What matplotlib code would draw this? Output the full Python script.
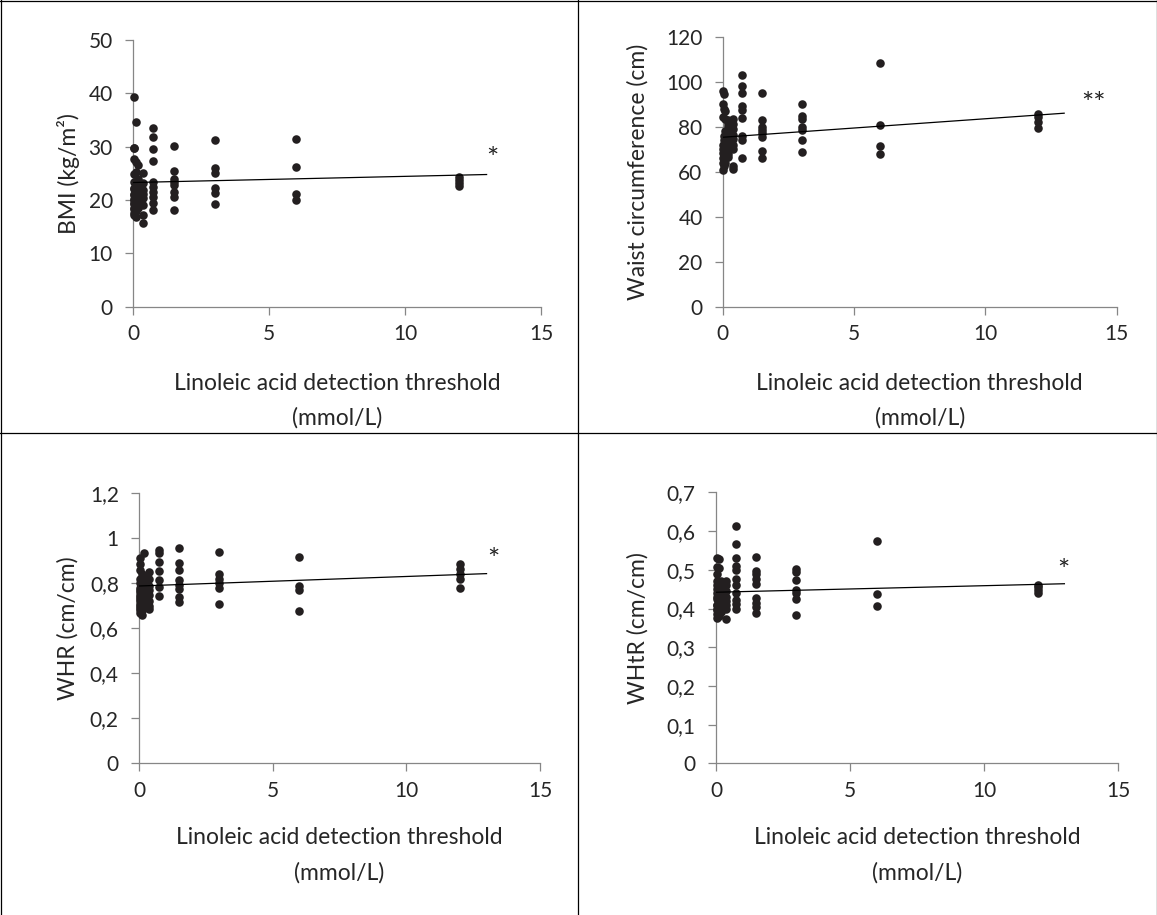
import matplotlib
matplotlib.use("Agg")
import matplotlib.pyplot as plt
from matplotlib.lines import Line2D

# ---------------- data ----------------
thresholds = [0.023, 0.047, 0.094, 0.1875, 0.375, 0.75, 1.5, 3, 6, 12]

bmi_values = [
    [17.2, 18.5, 19.5, 20.3, 21.2, 22.0, 29.8, 27.7],
    [39.4, 29.8, 24.9, 23.4, 22.3, 21.0, 20.0, 19.2, 18.4, 17.5],
    [34.6, 27.1, 25.2, 22.8, 21.8, 20.6, 19.6, 18.8, 18.0, 16.9, 20.8, 21.6],
    [26.5, 24.0, 23.0, 21.4, 20.2, 19.4, 18.6, 22.4, 20.9],
    [25.0, 23.2, 21.9, 21.1, 20.4, 19.0, 17.2, 15.7],
    [33.5, 31.8, 29.5, 27.4, 23.4, 22.5, 21.5, 20.6, 19.4, 18.2],
    [30.2, 25.5, 24.0, 23.4, 22.8, 21.5, 20.6, 18.2],
    [31.2, 26.0, 25.0, 22.2, 21.4, 19.2],
    [31.4, 26.2, 21.2, 20.1],
    [24.4, 23.8, 23.2, 22.6],
]

waist_values = [
    [96.0, 90.2, 84.1, 72.0, 70.0, 68.5, 66.0, 63.7, 60.8],
    [94.5, 87.9, 76.0, 74.0, 71.5, 69.0, 67.0, 65.0, 62.5],
    [87.1, 83.3, 78.0, 75.0, 73.0, 71.0, 69.5, 67.5, 65.5, 64.0],
    [83.0, 81.8, 80.3, 77.5, 76.0, 73.5, 71.8, 70.5, 68.0, 66.5],
    [83.5, 81.0, 79.0, 76.5, 74.5, 72.0, 70.0, 62.5, 61.4],
    [103.0, 98.1, 94.8, 89.2, 87.4, 84.0, 75.9, 74.1, 66.0],
    [95.1, 83.0, 80.0, 78.5, 77.1, 75.6, 69.3, 66.0],
    [90.1, 84.8, 83.3, 80.0, 78.5, 74.1, 68.9],
    [108.1, 80.8, 71.4, 67.9],
    [85.5, 84.2, 82.0, 79.5],
]

whr_values = [
    [0.911, 0.884, 0.82, 0.78, 0.76, 0.74, 0.72, 0.70, 0.68],
    [0.86, 0.80, 0.77, 0.75, 0.73, 0.71, 0.69, 0.67],
    [0.84, 0.81, 0.79, 0.76, 0.74, 0.72, 0.70, 0.68, 0.66],
    [0.933, 0.83, 0.80, 0.78, 0.75, 0.73, 0.71, 0.69],
    [0.85, 0.82, 0.79, 0.77, 0.75, 0.72, 0.70, 0.685],
    [0.948, 0.933, 0.893, 0.856, 0.815, 0.782, 0.745],
    [0.958, 0.892, 0.859, 0.815, 0.792, 0.773, 0.738, 0.718],
    [0.94, 0.841, 0.82, 0.80, 0.778, 0.707],
    [0.918, 0.788, 0.77, 0.677],
    [0.885, 0.865, 0.84, 0.82, 0.78],
]

whtr_values = [
    [0.530, 0.508, 0.489, 0.47, 0.45, 0.43, 0.41, 0.395, 0.375],
    [0.46, 0.44, 0.425, 0.41, 0.40, 0.385],
    [0.527, 0.504, 0.465, 0.45, 0.435, 0.42, 0.405, 0.39, 0.38],
    [0.47, 0.455, 0.44, 0.43, 0.415, 0.40, 0.39],
    [0.47, 0.46, 0.445, 0.43, 0.42, 0.41, 0.40, 0.372],
    [0.613, 0.566, 0.530, 0.511, 0.50, 0.476, 0.461, 0.441, 0.422, 0.411, 0.399],
    [0.534, 0.498, 0.489, 0.475, 0.463, 0.426, 0.415, 0.403, 0.388],
    [0.502, 0.495, 0.474, 0.448, 0.439, 0.424, 0.383],
    [0.574, 0.437, 0.406],
    [0.462, 0.455, 0.448, 0.44],
]

trend_x = [0, 13]
bmi_trend = [23.3, 24.8]
waist_trend = [75.3, 86.0]
whr_trend = [0.788, 0.843]
whtr_trend = [0.442, 0.464]

x_ticks = [0, 5, 10, 15]
bmi_ticks = [0, 10, 20, 30, 40, 50]
bmi_ticklabels = ["0", "10", "20", "30", "40", "50"]
waist_ticks = [0, 20, 40, 60, 80, 100, 120]
waist_ticklabels = ["0", "20", "40", "60", "80", "100", "120"]
whr_ticks = [0, 0.2, 0.4, 0.6, 0.8, 1.0, 1.2]
whr_ticklabels = ["0", "0,2", "0,4", "0,6", "0,8", "1", "1,2"]
whtr_ticks = [0, 0.1, 0.2, 0.3, 0.4, 0.5, 0.6, 0.7]
whtr_ticklabels = ["0", "0,1", "0,2", "0,3", "0,4", "0,5", "0,6", "0,7"]

ylabels = ["BMI (kg/m²)", "Waist circumference (cm)", "WHR (cm/cm)", "WHtR (cm/cm)"]
xlabel_lines = ["Linoleic acid detection threshold", "(mmol/L)"]
stars = ["*", "**", "*", "*"]
star_pos = [(13.2, 27.6), (14.1, 89.5), (13.25, 0.90), (12.95, 0.495)]

# ---------------- layout ----------------
W, H = 1157, 915
plt.rcParams["font.family"] = ["Lato", "DejaVu Sans"]
fig = plt.figure(figsize=(W / 100, H / 100), dpi=100)
fig.patch.set_facecolor("white")

FS_TICK = 15
FS_LAB = 16.5
DOT = "#231f20"
GREY = "#868686"
TXT = "#262626"


def px_axes(x0, x1, ybot, ytop):
    return fig.add_axes([x0 / W, 1 - ybot / H, (x1 - x0) / W, (ybot - ytop) / H])


panels = [
    dict(box=(133, 541, 306.7, 40.2), vals=bmi_values, trend=bmi_trend,
         ylim=(0, 50), yt=bmi_ticks, ytl=bmi_ticklabels, ylab_x=68, xl_y=(383, 418)),
    dict(box=(722.7, 1116.7, 306.7, 36.7), vals=waist_values, trend=waist_trend,
         ylim=(0, 120), yt=waist_ticks, ytl=waist_ticklabels, ylab_x=638, xl_y=(383, 418)),
    dict(box=(139, 540, 763.3, 493.3), vals=whr_values, trend=whr_trend,
         ylim=(0, 1.2), yt=whr_ticks, ytl=whr_ticklabels, ylab_x=68, xl_y=(838, 873)),
    dict(box=(716, 1118, 763.3, 492.4), vals=whtr_values, trend=whtr_trend,
         ylim=(0, 0.7), yt=whtr_ticks, ytl=whtr_ticklabels, ylab_x=638, xl_y=(838, 873)),
]

for i, p in enumerate(panels):
    x0, x1, yb, yt_ = p["box"]
    ax = px_axes(x0, x1, yb, yt_)
    xs, ys = [], []
    for t, vals in zip(thresholds, p["vals"]):
        for v in vals:
            xs.append(t)
            ys.append(v)
    ax.scatter(xs, ys, s=38, color=DOT, linewidths=0, zorder=3, clip_on=False)
    ax.plot(trend_x, p["trend"], color="black", lw=0.9, zorder=4)
    ax.text(star_pos[i][0], star_pos[i][1], stars[i], fontsize=21, ha="center",
            va="center", color="#222222")
    ax.set_xlim(0, 15)
    ax.set_ylim(*p["ylim"])
    ax.set_xticks(x_ticks)
    ax.set_xticklabels([str(v) for v in x_ticks])
    ax.set_yticks(p["yt"])
    ax.set_yticklabels(p["ytl"])
    for s in ["top", "right"]:
        ax.spines[s].set_visible(False)
    for s in ["left", "bottom"]:
        ax.spines[s].set_color(GREY)
        ax.spines[s].set_linewidth(0.9)
    ax.tick_params(axis="both", direction="out", length=5.5, width=0.9, color=GREY,
                   labelsize=FS_TICK, labelcolor=TXT)
    ax.tick_params(axis="x", pad=7)
    ax.tick_params(axis="y", pad=9)
    ax.patch.set_alpha(0)

    cx = (x0 + x1) / 2
    cy = (yb + yt_) / 2
    fig.text(p["ylab_x"] / W, 1 - cy / H, ylabels[i], rotation=90, ha="center",
             va="center", fontsize=FS_LAB, color=TXT)
    fig.text(cx / W, 1 - p["xl_y"][0] / H, xlabel_lines[0], ha="center", va="center",
             fontsize=FS_LAB, color=TXT)
    fig.text(cx / W, 1 - p["xl_y"][1] / H, xlabel_lines[1], ha="center", va="center",
             fontsize=FS_LAB, color=TXT)

# table-like cell borders
border_lines = [
    ((0.5, 0.5), (0, H)),          # left
    ((0, W), (0.5, 0.5)),          # top
    ((W - 0.5, W - 0.5), (0, H)),  # right
    ((578, 578), (0, H)),          # middle vertical
    ((0, W), (433, 433)),          # middle horizontal
]
for (xa, xb), (ya, yb2) in border_lines:
    fig.add_artist(Line2D([xa / W, xb / W], [1 - ya / H, 1 - yb2 / H],
                          transform=fig.transFigure, color="black", lw=0.9))

fig.savefig("out.png", dpi=100, facecolor="white")
